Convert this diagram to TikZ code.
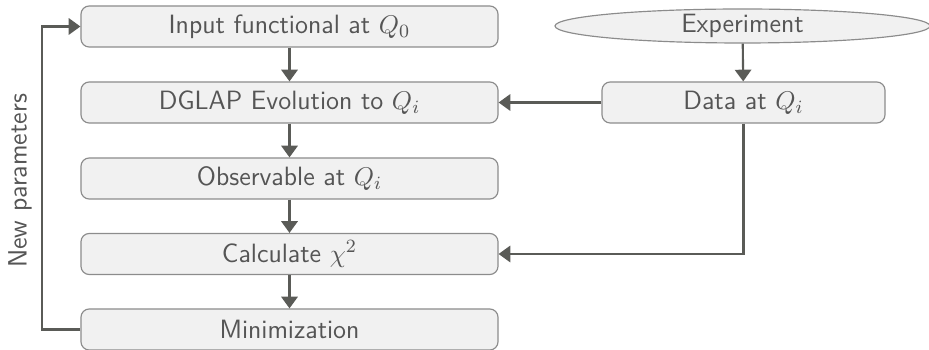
\documentclass[tikz,border=0pt]{standalone}
\usepackage{amssymb}
\usetikzlibrary{arrows.meta,shapes.geometric}
\definecolor{boxfill}{HTML}{F1F1F1}
\definecolor{boxline}{HTML}{8C8C8C}
\definecolor{txtgray}{HTML}{555555}
\definecolor{arrgray}{HTML}{5A5B57}
\tikzset{
  stepbox/.style={draw=boxline,fill=boxfill,line width=0.5pt,rounded corners=3.5pt,
    text=txtgray,minimum width=6.255cm,minimum height=0.615cm,inner sep=0pt},
  databox/.style={stepbox,minimum width=4.245cm},
  exptnode/.style={ellipse,draw=boxline,fill=boxfill,line width=0.5pt,text=txtgray,
    minimum width=5.625cm,minimum height=0.51cm,inner sep=0pt},
  flow/.style={draw=arrgray,line width=0.9pt,-{Triangle[length=5pt,width=7pt]}}
}
\begin{document}
\begin{tikzpicture}[x=0.015cm,y=-0.015cm,font=\sffamily\fontsize{11.3}{13.5}\selectfont]
\useasboundingbox (0,0) rectangle (929,350);
% left column
\node[stepbox] (input) at (289.5,26.5) {Input functional at $Q_0$};
\node[stepbox] (dglap) at (289.5,102.5) {DGLAP Evolution to $Q_i$};
\node[stepbox] (observ) at (289.5,178.5) {Observable at $Q_i$};
\node[stepbox] (chisq) at (289.5,254) {Calculate $\chi^2$};
\node[stepbox] (minim) at (289.5,329.5) {Minimization};
% right column
\node[exptnode] (expt) at (742.5,26) {Experiment};
\node[databox] (data) at (743.5,102.5) {Data at $Q_i$};
\node[text=txtgray,rotate=90] (newpar) at (20,181) {New parameters};
\draw[flow] (input) -- (dglap);
\draw[flow] (dglap) -- (observ);
\draw[flow] (observ) -- (chisq);
\draw[flow] (chisq) -- (minim);
\draw[flow] (expt) -- (data);
\draw[flow] (data) -- (dglap);
\draw[flow] (data.south) |- (chisq.east);
\draw[flow] (minim.west) -- ++(-38,0) |- (input.west);
\end{tikzpicture}
\end{document}
